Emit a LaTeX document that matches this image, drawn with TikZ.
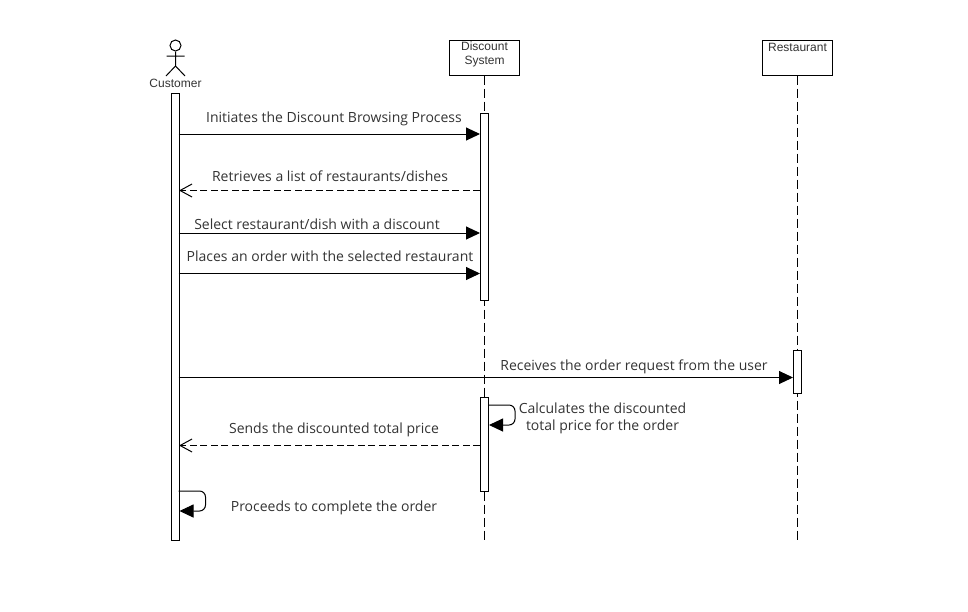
\documentclass[tikz,border=0pt]{standalone}
\usepackage{fontspec}
\setmainfont{Open Sans}
\newfontfamily\boxfont{Liberation Sans}
\usetikzlibrary{arrows.meta,positioning}
\definecolor{msgtext}{HTML}{333333}

\begin{document}
\begin{tikzpicture}[x=1pt,y=-1pt,
    lifebox/.style={draw,fill=white,line width=1pt,minimum width=69.5pt,minimum height=35pt,inner sep=0pt},
    boxtext/.style={font=\boxfont\fontsize{12}{13.5}\selectfont,text=msgtext,align=center,inner sep=0pt},
    bar/.style={draw,fill=white,line width=1pt,minimum width=8.5pt,inner sep=0pt},
    lifeline/.style={line width=1pt,dash pattern=on 9pt off 4pt},
    msg/.style={line width=1pt,-{Triangle[length=14pt,width=13pt]}},
    reply/.style={line width=1pt,dash pattern=on 7pt off 3.5pt,-{Straight Barb[length=12pt,width=13pt,line width=1pt]}},
    selfmsg/.style={line width=1pt,rounded corners=6pt,-{Triangle[length=14pt,width=13pt]}},
    lbl/.style={font=\fontsize{14}{17}\selectfont,text=msgtext,inner sep=0pt,align=center}]

    \useasboundingbox (0,0) rectangle (968,611);

    % lifeline heads
    \node[lifebox] (disc) at (484.5,57.5) {};
    \node[boxtext] (disctext) at (484.5,54.5) {Discount\\System};
    \node[lifebox] (rest) at (797.5,57.5) {};
    \node[boxtext] (resttext) at (797.5,47) {Restaurant};

    % actor
    \node[draw,circle,line width=1pt,minimum size=11pt,inner sep=0pt] (head) at (175.5,45.5) {};
    \coordinate (hip) at (175.5,66);
    \coordinate (armL) at (166.5,56);
    \coordinate (armR) at (184.5,56);
    \coordinate (legL) at (166,76);
    \coordinate (legR) at (185,76);
    \draw[line width=1pt] (head) -- (hip) (armL) -- (armR) (legL) -- (hip) -- (legR);
    \node[boxtext] (cust) at (175.5,83) {Customer};

    % lifelines
    \coordinate (discend) at (484.5,541);
    \coordinate (restend) at (797.5,541);
    \draw[lifeline] (disc) -- (discend);
    \draw[lifeline] (rest) -- (restend);

    % activation bars
    \node[bar,minimum height=447.5pt] (barcust) at (175.5,317) {};
    \node[bar,minimum height=187pt] (bardiscA) at (484.5,206.5) {};
    \node[bar,minimum height=93.5pt] (bardiscB) at (484.5,444.5) {};
    \node[bar,minimum height=43pt] (barrest) at (797.5,372) {};

    % ends of the messages
    \coordinate (c1) at (178.5,134); \coordinate (d1) at (480,134);
    \coordinate (c2) at (179,190.5); \coordinate (d2) at (480,190.5);
    \coordinate (c3) at (178.5,233); \coordinate (d3) at (480,233);
    \coordinate (c4) at (178.5,273.5); \coordinate (d4) at (480,273.5);
    \coordinate (c5) at (178.5,377.5); \coordinate (r5) at (793,377.5);
    \coordinate (c6) at (179,445.5); \coordinate (d6) at (480,445.5);
    \coordinate (d7) at (488.5,405); \coordinate (d7a) at (515,405);
    \coordinate (d7b) at (515,425); \coordinate (d7c) at (489,425);
    \coordinate (c8) at (178.5,491); \coordinate (c8a) at (205.5,491);
    \coordinate (c8b) at (205.5,511); \coordinate (c8c) at (179.5,511);

    \draw[msg] (c1) -- (d1);
    \draw[reply] (d2) -- (c2);
    \draw[msg] (c3) -- (d3);
    \draw[msg] (c4) -- (d4);
    \draw[msg] (c5) -- (r5);
    \draw[reply] (d6) -- (c6);
    \draw[selfmsg] (d7) -- (d7a) -- (d7b) -- (d7c);
    \draw[selfmsg] (c8) -- (c8a) -- (c8b) -- (c8c);

    % labels
    \node[lbl] (l1) at (334,119) {Initiates the Discount Browsing Process};
    \node[lbl] (l2) at (330,176) {Retrieves a list of restaurants/dishes};
    \node[lbl] (l3) at (317,224.5) {Select restaurant/dish with a discount};
    \node[lbl] (l4) at (330,256) {Places an order with the selected restaurant};
    \node[lbl] (l5) at (634,367) {Receives the order request from the user};
    \node[lbl] (l6) at (602.5,418) {Calculates the discounted\\total price for the order};
    \node[lbl] (l7) at (334,430) {Sends the discounted total price};
    \node[lbl] (l8) at (334,508) {Proceeds to complete the order};

\end{tikzpicture}
\end{document}
